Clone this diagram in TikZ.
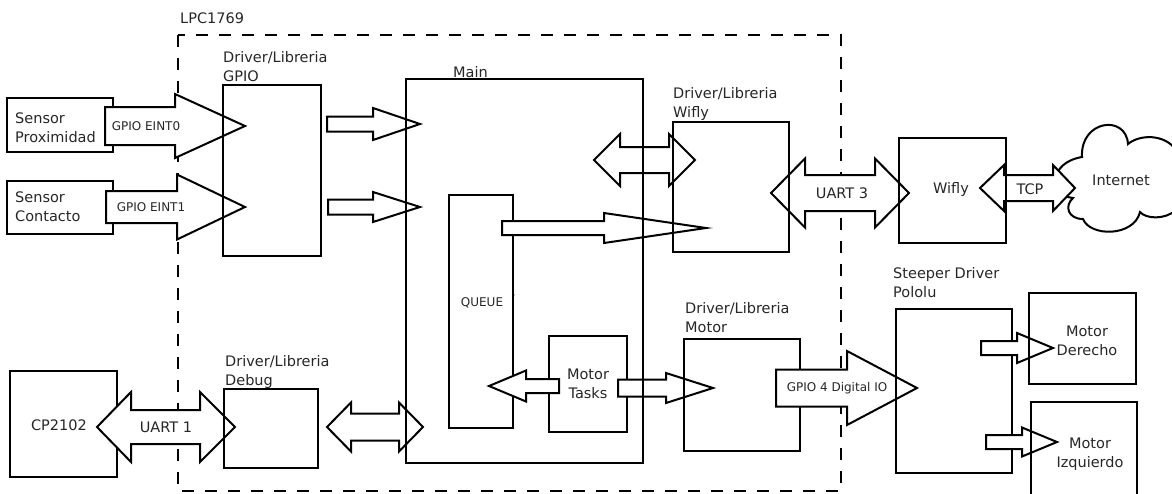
\documentclass[tikz,border=0pt]{standalone}
\usepackage{fontspec}
\setmainfont{DejaVu Sans}
\newcommand{\myarrow}[6]{% x0, x1 (head base), x2 (tip), yc, half shaft, half head
  \draw[arr] (#1,#4-#5) -- (#2,#4-#5) -- (#2,#4-#6) -- (#3,#4) -- (#2,#4+#6) -- (#2,#4+#5) -- (#1,#4+#5) -- cycle;}
\newcommand{\mydblarrow}[7]{% left tip, left base, right base, right tip, yc, half shaft, half head
  \draw[arr] (#1,#5) -- (#2,#5-#7) -- (#2,#5-#6) -- (#3,#5-#6) -- (#3,#5-#7) -- (#4,#5) -- (#3,#5+#7) -- (#3,#5+#6) -- (#2,#5+#6) -- (#2,#5+#7) -- cycle;}
\newcommand{\boxat}[5]{\node[box, minimum width=#4pt, minimum height=#5pt] (#1) at (#2,#3) {};}
\begin{document}
\begin{tikzpicture}[x=1pt,y=-1pt,
  lw/.style={line width=2pt},
  box/.style={draw, line width=2pt, inner sep=0pt, outer sep=0pt, anchor=north west},
  arr/.style={draw, fill=white, line width=2pt, line join=miter},
  big/.style={font=\fontsize{14.5}{19}\selectfont, inner sep=0pt, text=black!85},
  small/.style={font=\fontsize{12}{15}\selectfont, inner sep=0pt, text=black!85},
  lbl/.style={big, anchor=north west, align=left},
  ctr/.style={big, align=center},
]
\useasboundingbox (0,0) rectangle (1172,493);

% LPC1769 boundary
\draw[lw, dash pattern=on 12pt off 11pt] (178,35) rectangle (841,491);
\node[big, anchor=west] (lpc) at (180,18) {LPC1769};

% boxes
\boxat{sp}{7}{98}{106}{54}
\boxat{sc}{7}{181}{106}{53}
\boxat{gpio}{223}{85}{98}{171}
\boxat{main}{406}{79}{237}{384}
\boxat{queue}{449}{195}{64}{233}
\boxat{mt}{549}{336}{78}{96}
\boxat{wd}{673}{122}{116}{130}
\boxat{md}{684}{339}{116}{112}
\boxat{dbg}{224}{389}{94}{79}
\boxat{cp}{10}{371}{107}{106}
\boxat{wifly}{899}{138}{107}{105}
\boxat{steeper}{896}{309}{116}{164}
\boxat{mr}{1029}{293}{107}{91}
\boxat{ml}{1031}{402}{106}{110}

% cloud
\draw[lw] (1073,198) .. controls (1050,196) and (1047,163) .. (1082,157)
  .. controls (1080,120) and (1126,114) .. (1128,144)
  .. controls (1140,134) and (1165,134) .. (1176,150)
  -- (1176,210)
  .. controls (1165,220) and (1146,219) .. (1140,212)
  .. controls (1134,237) and (1090,237) .. (1083,219)
  .. controls (1068,219) and (1064,206) .. (1073,198) -- cycle;
\node[big] (inet) at (1121,180) {Internet};

% block arrows
\myarrow{105}{175}{245}{126}{19}{32}
\myarrow{106}{177}{245}{207}{16}{32.5}
\myarrow{327}{373}{420}{124}{7.5}{16}
\myarrow{328}{373}{420}{207}{7.5}{15}
\myarrow{502}{604}{706}{228}{7}{15}
\myarrow{559}{526}{489}{386}{7}{15.5}
\myarrow{618}{666}{713}{388}{8.5}{15}
\myarrow{776}{847}{917}{388}{18.5}{37}
\myarrow{981}{1017}{1053}{348}{7}{15}
\myarrow{986}{1022}{1057}{442}{7}{14.5}
\mydblarrow{97}{131}{200}{235}{427}{17}{35}
\mydblarrow{327}{351}{399}{423}{427}{13.5}{24.5}
\mydblarrow{594}{620}{669}{695}{160}{13}{26}
\mydblarrow{771}{805}{875}{909}{193}{18}{34.5}
\mydblarrow{980}{1004}{1053}{1075}{188}{13}{23}

% box edges visible through arrow heads
\draw[lw] (gpio.north west) -- (gpio.south west);
\draw[lw] (main.north west) -- (main.south west);
\draw[lw] (main.north east) -- (main.south east);
\draw[lw] (wd.north west) -- (wd.south west);
\draw[lw] (wd.north east) -- (wd.south east);
\draw[lw] (md.north west) -- (md.south west);
\draw[lw] (dbg.north west) -- (dbg.south west);
\draw[lw] (wifly.north west) -- (wifly.south west);
\draw[lw] (wifly.north east) -- (wifly.south east);
\draw[lw] (steeper.north west) -- (steeper.south west);
\draw[lw] (mr.north west) -- (mr.south west);
\draw[lw] (ml.north west) -- (ml.south west);

% labels above boxes
\node[lbl] (lgpio) at (223,51) {Driver/Libreria\\GPIO};
\node[big, anchor=west] (lmain) at (453,72) {Main};
\node[lbl] (lwd) at (673,87) {Driver/Libreria\\Wifly};
\node[lbl] (lmd) at (685,302) {Driver/Libreria\\Motor};
\node[lbl] (ldbg) at (225,355) {Driver/Libreria\\Debug};
\node[lbl] (lst) at (893,267) {Steeper Driver\\Pololu};

% texts inside boxes
\node[big, anchor=west, align=left] (tsp) at (15,127.5) {Sensor\\Proximidad};
\node[big, anchor=west, align=left] (tsc) at (15,206.5) {Sensor\\Contacto};
\node[small] (tq) at (482,303) {QUEUE};
\node[font=\fontsize{5}{6}\selectfont, inner sep=0pt] (tick) at (515,297) {'};
\node[ctr] (tmt) at (588,384) {Motor\\Tasks};
\node[big] (tcp) at (59,425) {CP2102};
\node[big] (twifly) at (951,189) {Wifly};
\node[ctr] (tmr) at (1087,341) {Motor\\Derecho};
\node[ctr] (tml) at (1090,454) {Motor\\Izquierdo};

% arrow labels
\node[small] (e0) at (146,126) {GPIO EINT0};
\node[small] (e1) at (151,207) {GPIO EINT1};
\node[small] (g4) at (837,388) {GPIO 4 Digital IO};
\node[big] (u1) at (166,427) {UART 1};
\node[big] (u3) at (842,193) {UART 3};
\node[big] (ttcp) at (1030,189) {TCP};
\end{tikzpicture}
\end{document}
